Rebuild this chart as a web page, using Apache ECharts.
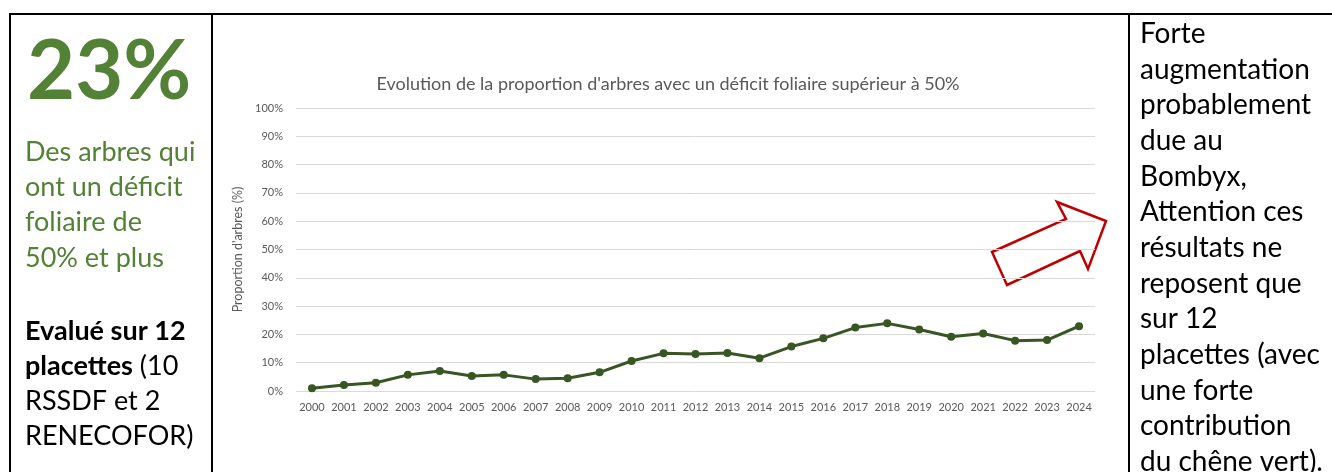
<!DOCTYPE html>
<html>
<head>
<meta charset="utf-8">
<script src="https://cdn.jsdelivr.net/npm/echarts@6/dist/echarts.min.js"></script>
<style>
  html, body { margin: 0; padding: 0; background: #fff; }
  #main { width: 1332px; height: 472px; }
</style>
</head>
<body>
<div id="main"></div>
<script>
const years = ["2000", "2001", "2002", "2003", "2004", "2005", "2006", "2007", "2008", "2009", "2010", "2011", "2012",
  "2013", "2014", "2015", "2016", "2017", "2018", "2019", "2020", "2021", "2022", "2023", "2024"];
const proportion = [1.0, 2.1, 2.9, 5.7, 7.1, 5.3, 5.7, 4.2, 4.5, 6.6, 10.6, 13.3, 13.1,
  13.4, 11.6, 15.7, 18.6, 22.4, 23.9, 21.7, 19.2, 20.3, 17.8, 18.0, 22.9];

const leftLines = ["Des arbres qui", "ont un déficit", "foliaire de", "50% et plus"];
const rightLines = ["Forte", "augmentation", "probablement", "due au", "Bombyx,", "Attention ces",
  "résultats ne", "reposent que", "sur 12", "placettes (avec", "une forte", "contribution", "du chêne vert)."];

const font = "Lato, 'Open Sans', sans-serif";
const myChart = echarts.init(document.getElementById("main"));

// table borders + side texts
const graphics = [
  { type: "line", shape: { x1: 9, y1: 14, x2: 1332, y2: 14 }, style: { stroke: "#000", lineWidth: 2 } },
  { type: "line", shape: { x1: 10, y1: 14, x2: 10, y2: 472 }, style: { stroke: "#000", lineWidth: 2 } },
  { type: "line", shape: { x1: 212, y1: 14, x2: 212, y2: 472 }, style: { stroke: "#000", lineWidth: 2 } },
  { type: "line", shape: { x1: 1129, y1: 14, x2: 1129, y2: 472 }, style: { stroke: "#000", lineWidth: 2 } },
  {
    type: "text", left: 27, top: 31,
    style: { text: "23%", font: "bold 83px " + font, fill: "#538135" }
  },
  // red arrow
  {
    type: "polygon",
    shape: { points: [[1007, 285], [992, 252], [1066, 219], [1057, 202], [1106, 221], [1088, 269], [1080, 251]] },
    style: { fill: "#fff", stroke: "#c00000", lineWidth: 2.5 }
  }
];

leftLines.forEach((t, i) => {
  graphics.push({
    type: "text", x: 25, y: 152 + i * 35.3,
    style: { text: t, font: "27px " + font, fill: "#538135", verticalAlign: "middle" }
  });
});

const bold = "bold 27px " + font;
const reg = "27px " + font;
graphics.push(
  { type: "text", x: 25, y: 331, style: { text: "Evalué sur 12", font: bold, fill: "#000", verticalAlign: "middle" } },
  {
    type: "text", x: 25, y: 366,
    style: {
      text: "{b|placettes} (10", font: reg, fill: "#000", verticalAlign: "middle",
      rich: { b: { font: bold, fill: "#000" } }
    }
  },
  { type: "text", x: 25, y: 401, style: { text: "RSSDF et 2", font: reg, fill: "#000", verticalAlign: "middle" } },
  { type: "text", x: 25, y: 436, style: { text: "RENECOFOR)", font: reg, fill: "#000", verticalAlign: "middle" } }
);

rightLines.forEach((t, i) => {
  graphics.push({
    type: "text", x: 1140, y: 34 + i * 35.67,
    style: { text: t, font: "28px " + font, fill: "#000", verticalAlign: "middle" }
  });
});

const option = {
  animation: false,
  title: {
    text: "Evolution de la proportion d'arbres avec un déficit foliaire supérieur à 50%",
    left: 663,
    textAlign: "center",
    top: 70,
    textStyle: { fontFamily: font, fontSize: 18, fontWeight: "normal", color: "#595959" }
  },
  grid: { left: 296, right: 237, top: 108, bottom: 81 },
  xAxis: {
    type: "category",
    data: years,
    boundaryGap: true,
    axisLine: { show: false },
    axisTick: { show: false },
    axisLabel: { interval: 0, fontFamily: font, fontSize: 11, color: "#595959", margin: 11 }
  },
  yAxis: {
    type: "value",
    min: 0,
    max: 100,
    interval: 10,
    name: "Proportion d'arbres (%)",
    nameLocation: "middle",
    nameGap: 48,
    nameTextStyle: { fontFamily: font, fontSize: 12.5, color: "#595959" },
    axisLabel: { formatter: "{value}%", fontFamily: font, fontSize: 11, color: "#595959", margin: 13 },
    splitLine: { lineStyle: { color: "#d9d9d9", width: 1 } }
  },
  series: [
    {
      type: "line",
      data: proportion,
      symbol: "circle",
      symbolSize: 8,
      lineStyle: { color: "#375623", width: 3 },
      itemStyle: { color: "#375623" }
    }
  ],
  graphic: graphics
};

myChart.setOption(option);
</script>
</body>
</html>
